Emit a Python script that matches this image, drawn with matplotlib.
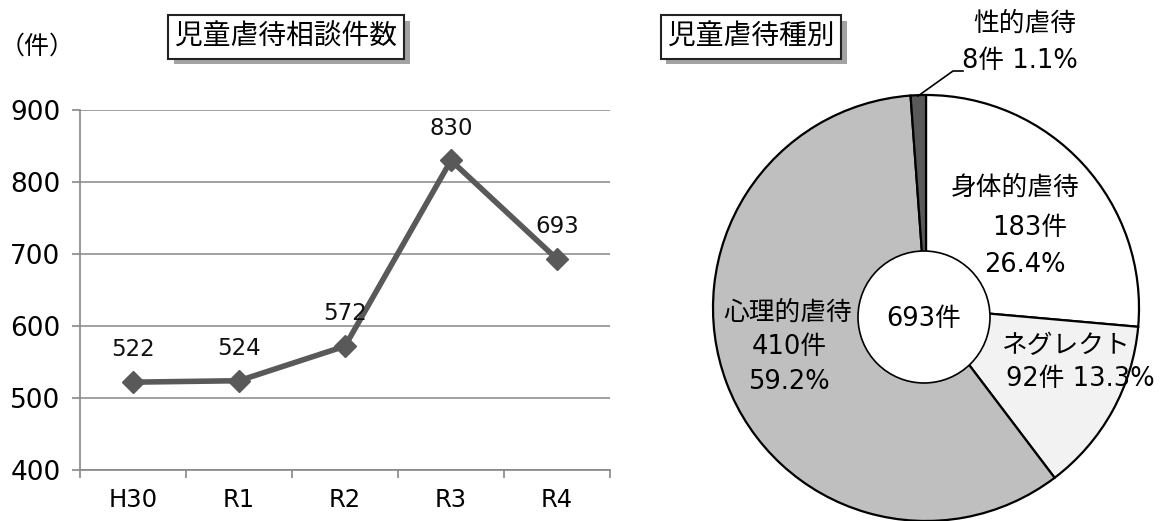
import matplotlib
matplotlib.use("Agg")
import matplotlib.pyplot as plt
import matplotlib.patheffects as pe
from matplotlib.patches import Circle
import numpy as np

plt.rcParams['font.family'] = ['DejaVu Sans', 'Noto Sans CJK JP']

# ---- data ----
years = ["H30", "R1", "R2", "R3", "R4"]
counts = [522, 524, 572, 830, 693]
y_ticks = [400, 500, 600, 700, 800, 900]

types = ["身体的虐待", "ネグレクト", "心理的虐待", "性的虐待"]
type_counts = [183, 92, 410, 8]
type_pcts = ["26.4%", "13.3%", "59.2%", "1.1%"]
type_colors = ["#ffffff", "#f2f2f2", "#bfbfbf", "#595959"]
total_label = "693件"

W, H = 1169, 521
fig = plt.figure(figsize=(W / 100, H / 100), dpi=100)

# ---- line chart ----
ax = fig.add_axes([80 / W, 1 - 470 / H, 530 / W, 360 / H])
x = np.arange(len(years))
ax.plot(x, counts, color="#595959", lw=4, marker="D", ms=11, zorder=3)
for xi, v in zip(x, counts):
    ax.annotate(str(v), (xi, v), xytext=(0, 15), textcoords="offset points",
                ha="center", va="bottom", fontsize=16.5, color="#111111")
ax.set_xlim(-0.5, len(years) - 0.5)
ax.set_ylim(400, 900)
ax.set_yticks(y_ticks)
ax.set_xticks(x)
ax.set_xticklabels(years)
ax.set_xticks(np.arange(-0.5, len(years)), minor=True)
ax.tick_params(axis="x", which="major", length=0, pad=13, labelsize=17.5)
ax.tick_params(axis="x", which="minor", length=6, color="#888888", width=1.2)
ax.tick_params(axis="y", length=6, color="#888888", width=1.2, labelsize=19, pad=8)
ax.yaxis.grid(True, color="#9a9a9a", lw=1.3)
ax.set_axisbelow(True)
for s in ["top", "right"]:
    ax.spines[s].set_visible(False)
for s in ["left", "bottom"]:
    ax.spines[s].set_color("#888888")
    ax.spines[s].set_linewidth(1.2)

fig.text(37 / W, 1 - 47 / H, "（件）", ha="center", va="center", fontsize=18,
         family=['Noto Sans CJK JP'])

def boxed_title(xc, yc, s):
    t = fig.text(xc / W, 1 - yc / H, s, ha="center", va="center", fontsize=20,
                 family=['Noto Sans CJK JP'],
                 bbox=dict(boxstyle="square,pad=0.25", fc="white", ec="#222222", lw=1.5))
    t.get_bbox_patch().set_path_effects([
        pe.SimplePatchShadow(offset=(4, -4), shadow_rgbFace="#8c8c8c", alpha=0.8),
        pe.Normal()])
    return t

boxed_title(286, 37, "児童虐待相談件数")
boxed_title(751, 37, "児童虐待種別")

# ---- pie chart (1 data unit = 1 pixel) ----
x0 = 640
pax = fig.add_axes([x0 / W, 0, (W - x0) / W, 1])
cx, cy, r = 926, H - 308, 213
pax.pie(type_counts, colors=type_colors, startangle=90, counterclock=False,
        center=(cx, cy), radius=r, frame=True,
        wedgeprops=dict(edgecolor="black", linewidth=1.6))
pax.set_xlim(x0, W)
pax.set_ylim(0, H)
pax.set_aspect("auto")
pax.axis("off")

pax.add_patch(Circle((cx - 2, H - 317), 66, fc="white", ec="black", lw=1.2, zorder=5))
pax.text(cx - 2, H - 319, total_label, ha="center", va="center", fontsize=18.5, zorder=6)

fs = 18.5
def T(xp, yp, s, ha="center"):
    pax.text(xp, H - yp, s, ha=ha, va="center", fontsize=fs, zorder=6)

# physical
T(1015, 188, types[0])
T(1030, 228, f"{type_counts[0]}件")
T(1025, 265, type_pcts[0])
# neglect
T(1066, 346, types[1])
T(1080, 379, f"{type_counts[1]}件 {type_pcts[1]}")
# psychological
T(788, 313, types[2])
T(789, 347, f"{type_counts[2]}件")
T(789, 382, type_pcts[2])
# sexual
T(1025, 24, types[3])
T(962, 61, f"{type_counts[3]}件 {type_pcts[3]}", ha="left")
pax.plot([918, 953, 963], [H - 96, H - 71, H - 71], color="black", lw=1.2, zorder=6)

fig.savefig("out.png", dpi=100)
